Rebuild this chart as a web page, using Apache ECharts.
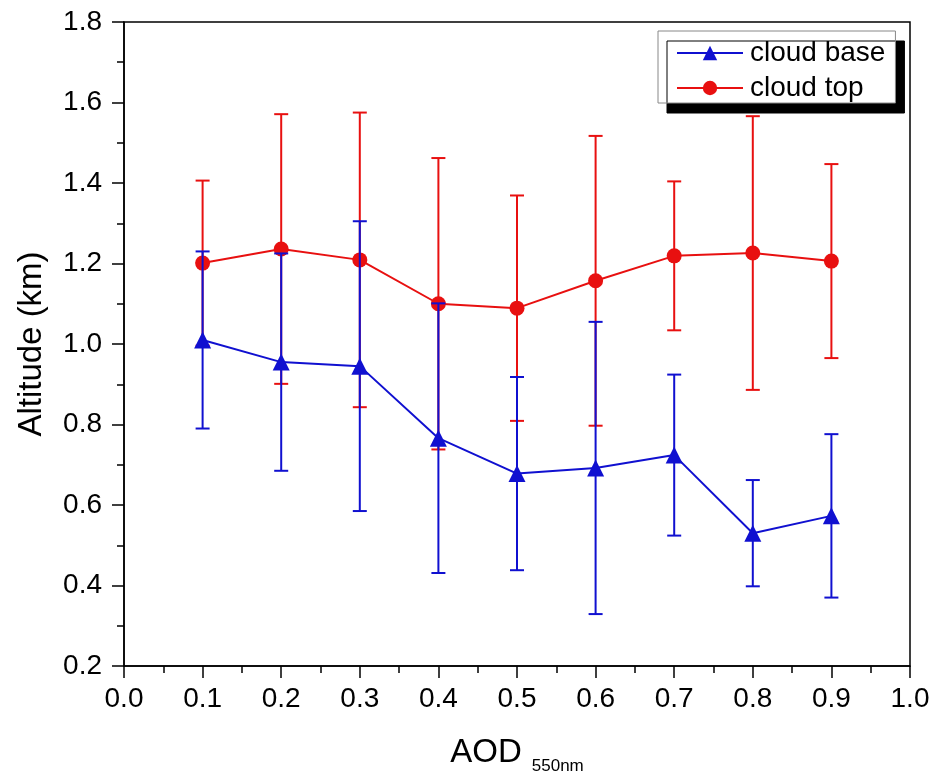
<!DOCTYPE html>
<html>
<head>
<meta charset="utf-8">
<script src="https://cdn.jsdelivr.net/npm/echarts@6/dist/echarts.min.js"></script>
<style>
  html, body { margin: 0; padding: 0; background: #fff; }
  #chart { width: 933px; height: 782px; }
</style>
</head>
<body>
<div id="chart"></div>
<script>
// AOD bins (550 nm)
const aod = [0.1, 0.2, 0.3, 0.4, 0.5, 0.6, 0.7, 0.8, 0.9];
// Mean cloud base altitude (km) and its standard deviation
const cloudBase = [1.010, 0.955, 0.945, 0.766, 0.678, 0.692, 0.724, 0.530, 0.573];
const cloudBaseErr = [0.220, 0.270, 0.360, 0.335, 0.240, 0.363, 0.200, 0.132, 0.203];
// Mean cloud top altitude (km) and its standard deviation
const cloudTop = [1.201, 1.236, 1.209, 1.100, 1.089, 1.157, 1.219, 1.226, 1.206];
const cloudTopErr = [0.205, 0.335, 0.366, 0.362, 0.280, 0.360, 0.185, 0.340, 0.241];

const BLUE = '#1010d0';
const RED = '#e81010';
const FONT = 'Liberation Sans, Arial, sans-serif';

function pairs(ys) { return aod.map((x, i) => [x, ys[i]]); }
function errRows(ys, es) { return aod.map((x, i) => [x, ys[i] - es[i], ys[i] + es[i]]); }

// Vertical error bar with caps, positioned through the axis scales
function errorBar(color) {
  return function (params, api) {
    const lo = api.coord([api.value(0), api.value(1)]);
    const hi = api.coord([api.value(0), api.value(2)]);
    const half = 7;
    const style = { stroke: color, lineWidth: 2 };
    return {
      type: 'group',
      children: [
        { type: 'line', shape: { x1: lo[0], y1: lo[1], x2: hi[0], y2: hi[1] }, style },
        { type: 'line', shape: { x1: lo[0] - half, y1: lo[1], x2: lo[0] + half, y2: lo[1] }, style },
        { type: 'line', shape: { x1: hi[0] - half, y1: hi[1], x2: hi[0] + half, y2: hi[1] }, style }
      ]
    };
  };
}

const chart = echarts.init(document.getElementById('chart'), null, { renderer: 'canvas' });

chart.setOption({
  animation: false,
  backgroundColor: '#fff',
  grid: {
    left: 124, right: 23, top: 22, bottom: 116,
    show: true, borderColor: '#000', borderWidth: 1.5, backgroundColor: 'transparent'
  },
  legend: {
    orient: 'vertical',
    left: 658, top: 31,
    padding: [8, 10, 1, 18],
    itemGap: 7,
    itemWidth: 66,
    itemHeight: 18,
    backgroundColor: '#fff',
    borderColor: '#888',
    borderWidth: 1,
    shadowColor: '#000',
    shadowBlur: 0,
    shadowOffsetX: 9,
    shadowOffsetY: 10,
    textStyle: { fontFamily: FONT, fontSize: 28, color: '#000', padding: [0, 0, 0, 2] },
    data: ['cloud base', 'cloud top']
  },
  xAxis: {
    type: 'value',
    min: 0, max: 1, interval: 0.1,
    name: '{a|AOD}{b|550nm}',
    nameLocation: 'middle',
    nameGap: 64,
    nameTextStyle: {
      rich: {
        a: { fontFamily: FONT, fontSize: 33, color: '#000', lineHeight: 38 },
        b: { fontFamily: FONT, fontSize: 17, color: '#000', padding: [28, 0, 0, 10] }
      }
    },
    axisLine: { onZero: false, lineStyle: { color: '#000', width: 1.5 } },
    axisTick: { inside: false, length: 12, lineStyle: { color: '#000', width: 1.5 } },
    minorTick: { show: true, splitNumber: 2, length: 7, lineStyle: { color: '#000', width: 1.5 } },
    splitLine: { show: false },
    axisLabel: {
      margin: 19, fontFamily: FONT, fontSize: 28, color: '#000',
      formatter: v => v.toFixed(1)
    }
  },
  yAxis: {
    type: 'value',
    min: 0.2, max: 1.8, interval: 0.2,
    name: 'Altitude (km)',
    nameLocation: 'middle',
    nameGap: 76,
    nameTextStyle: { fontFamily: FONT, fontSize: 33, color: '#000' },
    axisLine: { onZero: false, lineStyle: { color: '#000', width: 1.5 } },
    axisTick: { inside: false, length: 12, lineStyle: { color: '#000', width: 1.5 } },
    minorTick: { show: true, splitNumber: 2, length: 7, lineStyle: { color: '#000', width: 1.5 } },
    splitLine: { show: false },
    axisLabel: {
      margin: 22, fontFamily: FONT, fontSize: 28, color: '#000',
      formatter: v => v.toFixed(1)
    }
  },
  series: [
    {
      name: 'top-err', type: 'custom', renderItem: errorBar(RED),
      data: errRows(cloudTop, cloudTopErr), encode: { x: 0, y: [1, 2] }, z: 2
    },
    {
      name: 'cloud top', type: 'line', data: pairs(cloudTop),
      symbol: 'circle', symbolSize: 15,
      lineStyle: { color: RED, width: 2 },
      itemStyle: { color: RED },
      z: 3
    },
    {
      name: 'base-err', type: 'custom', renderItem: errorBar(BLUE),
      data: errRows(cloudBase, cloudBaseErr), encode: { x: 0, y: [1, 2] }, z: 4
    },
    {
      name: 'cloud base', type: 'line', data: pairs(cloudBase),
      symbol: 'triangle', symbolSize: 17,
      lineStyle: { color: BLUE, width: 2 },
      itemStyle: { color: BLUE },
      z: 5
    }
  ]
});
</script>
</body>
</html>
